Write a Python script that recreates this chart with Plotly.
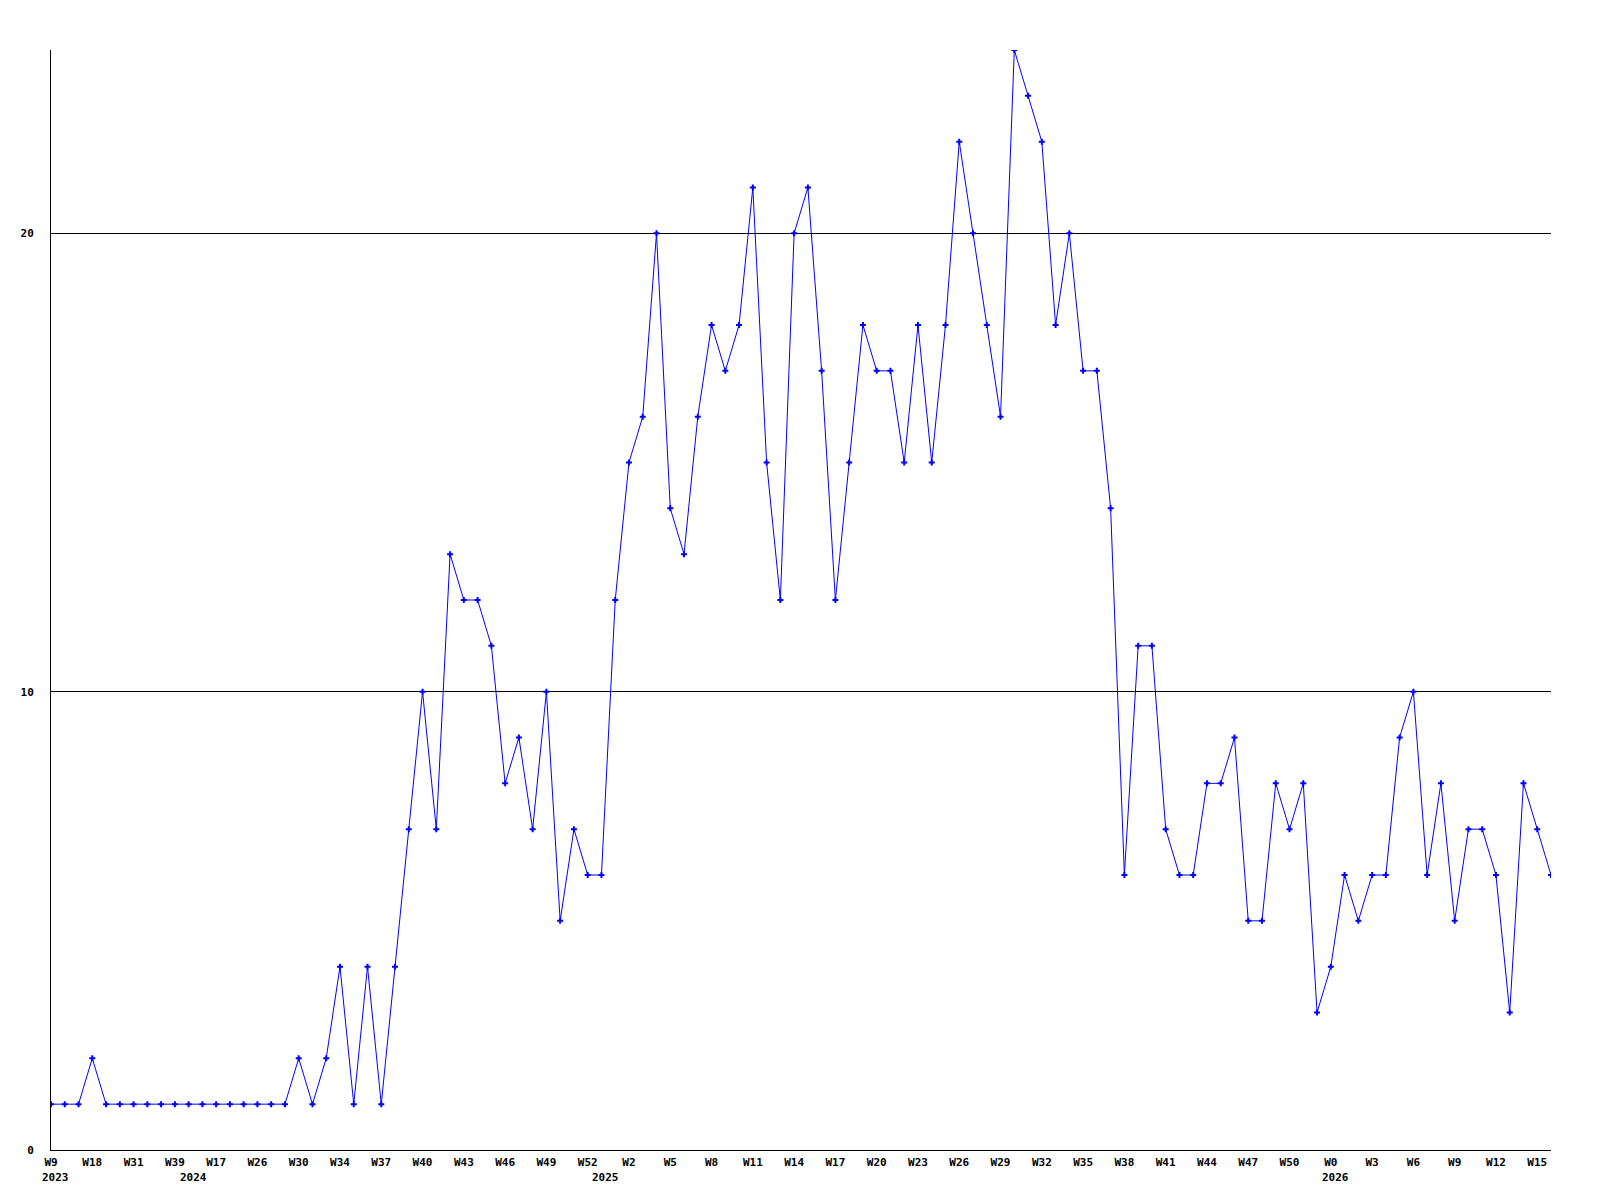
import plotly.graph_objects as go

values = [1, 1, 1, 2, 1, 1, 1, 1, 1, 1, 1, 1, 1, 1, 1, 1, 1, 1, 2, 1,
          2, 4, 1, 4, 1, 4, 7, 10, 7, 13, 12, 12, 11, 8, 9, 7, 10, 5, 7, 6,
          6, 12, 15, 16, 20, 14, 13, 16, 18, 17, 18, 21, 15, 12, 20, 21, 17, 12, 15, 18,
          17, 17, 15, 18, 15, 18, 22, 20, 18, 16, 24, 23, 22, 18, 20, 17, 17, 14, 6, 11,
          11, 7, 6, 6, 8, 8, 9, 5, 5, 8, 7, 8, 3, 4, 6, 5, 6, 6, 9, 10,
          6, 8, 5, 7, 7, 6, 3, 8, 7, 6]

week_labels = ["W9", "W18", "W31", "W39", "W17", "W26", "W30", "W34", "W37", "W40",
               "W43", "W46", "W49", "W52", "W2", "W5", "W8", "W11", "W14", "W17",
               "W20", "W23", "W26", "W29", "W32", "W35", "W38", "W41", "W44", "W47",
               "W50", "W0", "W3", "W6", "W9", "W12", "W15"]
week_label_step = 3

year_labels = ["2023", "2024", "2025", "2026"]
year_positions = [0, 10, 40, 93]

y_ticks = [0, 10, 20]
y_max = 24

x = list(range(len(values)))
tick_vals = [i * week_label_step for i in range(len(week_labels))]

FONT = "DejaVu Sans Mono"

fig = go.Figure()
fig.add_trace(go.Scatter(
    x=x, y=values, mode="lines+markers",
    line=dict(color="#0000ff", width=1),
    marker=dict(symbol="cross", size=5, color="#0000ff"),
    showlegend=False,
))

for lab, pos in zip(year_labels, year_positions):
    fig.add_annotation(x=pos, y=0, xref="x", yref="paper", text="<b>%s</b>" % lab,
                       showarrow=False, xanchor="left", yanchor="top",
                       xshift=-11, yshift=-19,
                       font=dict(family=FONT, size=11, color="black"))

fig.update_layout(
    width=1592, height=1192,
    margin=dict(l=43, r=49, t=42, b=50, autoexpand=False),
    paper_bgcolor="white", plot_bgcolor="white",
    font=dict(family=FONT, size=11, color="black"),
)
fig.update_xaxes(
    range=[0, len(values) - 1],
    tickvals=tick_vals,
    ticktext=["<b>%s</b>" % t for t in week_labels],
    showgrid=False, zeroline=False,
    showline=True, linecolor="black", linewidth=1,
    ticks="", ticklabelstandoff=2, automargin=False,
)
fig.update_yaxes(
    range=[0, y_max],
    tickvals=y_ticks,
    ticktext=["<b>%d</b>" % t for t in y_ticks],
    showgrid=True, gridcolor="black", gridwidth=1,
    zeroline=False,
    showline=True, linecolor="black", linewidth=1,
    ticks="", ticklabelstandoff=14, automargin=False,
)

fig.write_html("out.html")
